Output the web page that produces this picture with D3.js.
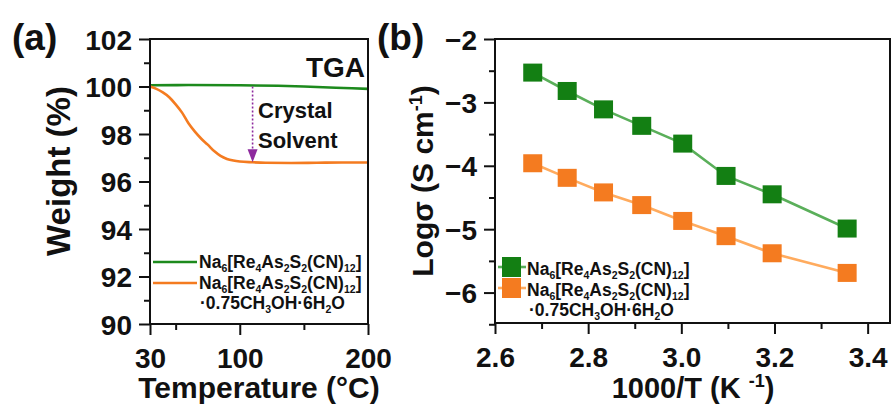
<!DOCTYPE html>
<html>
<head>
<meta charset="utf-8">
<script src="https://cdn.jsdelivr.net/npm/d3@7"></script>
<style>
  body { margin: 0; background: #fff; }
  svg text { font-family: "Liberation Sans", Arial, sans-serif; font-weight: bold; fill: #111; }
</style>
</head>
<body>
<svg id="fig" width="895" height="412"></svg>
<script>
// ---- data: TGA (panel a)
const tgaTempOrange = [30, 35, 40, 45, 50, 55, 60, 65, 70, 75, 80, 85, 90, 95, 100, 110, 120, 140, 160, 180, 200];
const tgaWeightOrange = [100.0, 99.9, 99.75, 99.55, 99.25, 98.9, 98.45, 98.1, 97.8, 97.55, 97.28, 97.08, 96.95, 96.88, 96.84, 96.81, 96.79, 96.78, 96.79, 96.8, 96.8];
const tgaTempGreen = [30, 60, 100, 130, 150, 175, 200];
const tgaWeightGreen = [100.05, 100.06, 100.05, 100.03, 100.0, 99.95, 99.9];
const solventArrow = { temp: 110, from: 100.0, to: 96.81 };

// ---- data: conductivity (panel b)
const invT = [2.681, 2.755, 2.833, 2.915, 3.003, 3.096, 3.195, 3.356];
const logSigmaDry = [-2.53, -2.82, -3.11, -3.37, -3.65, -4.16, -4.45, -4.99];
const logSigmaSolv = [-3.96, -4.19, -4.42, -4.62, -4.87, -5.11, -5.38, -5.69];

const tempTicks = [30, 100, 200];
const tempMinor = [50, 150];
const weightTicks = [90, 92, 94, 96, 98, 100, 102];
const weightMinor = [91, 93, 95, 97, 99, 101];
const invTTicks = [2.6, 2.8, 3.0, 3.2, 3.4];
const invTMinor = [2.7, 2.9, 3.1, 3.3];
const sigmaTicks = [-2, -3, -4, -5, -6];
const sigmaMinor = [-2.5, -3.5, -4.5, -5.5, -6.5];

const GREEN = "#137f13", ORANGE = "#f47b20";
const GREEN_LINE = "#5aaf5a", ORANGE_LINE = "#ffab5e";
const PURPLE = "#8e2a9e";

// formula pieces: [text, isSub]
const formula = [["Na", 0], ["6", 1], ["[Re", 0], ["4", 1], ["As", 0], ["2", 1], ["S", 0], ["2", 1], ["(CN)", 0], ["12", 1], ["]", 0]];
const solvent = [["·0.75CH", 0], ["3", 1], ["OH·6H", 0], ["2", 1], ["O", 0]];

const svg = d3.select("#fig");

// write text made of normal and subscript parts
function richText(g, x, y, parts, size) {
  const t = g.append("text").attr("x", x).attr("y", y).style("font-size", size + "px");
  let shift = 0;
  parts.forEach(([s, sub]) => {
    const want = sub ? size * 0.22 : 0;
    t.append("tspan")
      .attr("dy", want - shift)
      .style("font-size", (sub ? size * 0.6 : size) + "px")
      .text(s);
    shift = want;
  });
  return t;
}

function frame(g, x, y) {
  const [x0, x1] = x.range(), [y0, y1] = y.range();
  g.append("rect")
    .attr("x", x0).attr("y", y1)
    .attr("width", x1 - x0).attr("height", y0 - y1)
    .attr("fill", "none").attr("stroke", "#111").attr("stroke-width", 2);
}

function axes(g, x, y, xt, xm, yt, ym, xfmt, yfmt) {
  const [x0] = x.range(), [y0] = y.range();
  const bottom = g.append("g").attr("transform", `translate(0,${y0})`)
    .call(d3.axisBottom(x).tickValues(xt).tickSize(11).tickPadding(6).tickFormat(xfmt));
  g.append("g").attr("transform", `translate(0,${y0})`)
    .call(d3.axisBottom(x).tickValues(xm).tickSize(6).tickFormat(""));
  const left = g.append("g").attr("transform", `translate(${x0},0)`)
    .call(d3.axisLeft(y).tickValues(yt).tickSize(11).tickPadding(7).tickFormat(yfmt));
  g.append("g").attr("transform", `translate(${x0},0)`)
    .call(d3.axisLeft(y).tickValues(ym).tickSize(6).tickFormat(""));
  g.selectAll(".domain").remove();
  g.selectAll(".tick line").attr("stroke", "#111").attr("stroke-width", 2);
  g.selectAll(".tick text").attr("font-family", null).attr("font-size", null)
    .style("font-size", "28px").attr("fill", "#111");
  left.selectAll(".tick text").attr("dy", "0.36em");
  bottom.selectAll(".tick text").attr("dy", "0.95em");
}

// ================= panel (a)
const xa = d3.scaleLinear().domain([30, 200]).range([150, 368]);
const ya = d3.scaleLinear().domain([90, 102]).range([324, 39]);
const ga = svg.append("g");

const lineA = d3.line().curve(d3.curveMonotoneX);
ga.append("path")
  .attr("d", lineA(tgaTempGreen.map((t, i) => [xa(t), ya(tgaWeightGreen[i])])))
  .attr("fill", "none").attr("stroke", "#1d8a1d").attr("stroke-width", 2.6);
ga.append("path")
  .attr("d", lineA(tgaTempOrange.map((t, i) => [xa(t), ya(tgaWeightOrange[i])])))
  .attr("fill", "none").attr("stroke", ORANGE).attr("stroke-width", 2.6);

// crystal solvent arrow
const ax = xa(solventArrow.temp), ayTop = ya(solventArrow.from), ayTip = ya(solventArrow.to);
ga.append("line")
  .attr("x1", ax).attr("x2", ax).attr("y1", ayTop).attr("y2", ayTip - 12)
  .attr("stroke", PURPLE).attr("stroke-width", 1.6).attr("stroke-dasharray", "2,2");
ga.append("path")
  .attr("d", `M${ax - 5},${ayTip - 13}L${ax + 5},${ayTip - 13}L${ax},${ayTip}Z`)
  .attr("fill", PURPLE);
ga.append("text").attr("x", 258).attr("y", 118).style("font-size", "22px").text("Crystal");
ga.append("text").attr("x", 258).attr("y", 148).style("font-size", "22px").text("Solvent");

ga.append("text").attr("x", 365).attr("y", 77).attr("text-anchor", "end")
  .style("font-size", "28px").text("TGA");

frame(ga, xa, ya);
axes(ga, xa, ya, tempTicks, tempMinor, weightTicks, weightMinor, d3.format("d"), d3.format("d"));

// legend (a)
ga.append("line").attr("x1", 153).attr("x2", 197).attr("y1", 262).attr("y2", 262)
  .attr("stroke", "#1d8a1d").attr("stroke-width", 2.6);
ga.append("line").attr("x1", 153).attr("x2", 197).attr("y1", 283).attr("y2", 283)
  .attr("stroke", ORANGE).attr("stroke-width", 2.6);
richText(ga, 199, 268, formula, 17.5);
richText(ga, 199, 289, formula, 17.5);
richText(ga, 200, 309, solvent, 17.5);

ga.append("text").attr("x", 12).attr("y", 50).style("font-size", "37px").text("(a)");
ga.append("text").attr("transform", "translate(70,171) rotate(-90)")
  .attr("text-anchor", "middle").style("font-size", "33px").text("Weight (%)");
ga.append("text").attr("x", 259).attr("y", 398).attr("text-anchor", "middle")
  .style("font-size", "30px").text("Temperature (°C)");

// ================= panel (b)
const xb = d3.scaleLinear().domain([2.6, 3.448]).range([495, 890]);
const yb = d3.scaleLinear().domain([-6.48, -2]).range([323, 39]);
const gb = svg.append("g");

const series = [
  { vals: logSigmaSolv, fill: ORANGE, line: ORANGE_LINE },
  { vals: logSigmaDry, fill: GREEN, line: GREEN_LINE },
];
const lineB = d3.line();
series.forEach((s) => {
  const pts = invT.map((v, i) => [xb(v), yb(s.vals[i])]);
  gb.append("path").attr("d", lineB(pts))
    .attr("fill", "none").attr("stroke", s.line).attr("stroke-width", 2.6);
  gb.selectAll(null).data(pts).enter().append("rect")
    .attr("x", (d) => d[0] - 9.5).attr("y", (d) => d[1] - 9)
    .attr("width", 19).attr("height", 18)
    .attr("fill", s.fill);
});

frame(gb, xb, yb);
axes(gb, xb, yb, invTTicks, invTMinor, sigmaTicks, sigmaMinor, d3.format(".1f"), (d) => "−" + Math.abs(d));

// legend (b)
[[GREEN, GREEN_LINE, 267], [ORANGE, ORANGE_LINE, 288]].forEach(([f, l, yy]) => {
  gb.append("line").attr("x1", 498).attr("x2", 526).attr("y1", yy).attr("y2", yy)
    .attr("stroke", l).attr("stroke-width", 2.6);
  gb.append("rect").attr("x", 502).attr("y", yy - 10).attr("width", 19).attr("height", 20).attr("fill", f);
});
richText(gb, 527, 275, formula, 17.5);
richText(gb, 527, 296, formula, 17.5);
richText(gb, 529, 316, solvent, 17.5);

gb.append("text").attr("x", 377).attr("y", 50).style("font-size", "37px").text("(b)");
const yl = gb.append("text").attr("transform", "translate(433,181) rotate(-90)")
  .attr("text-anchor", "middle").style("font-size", "30px");
yl.append("tspan").text("Logσ (S cm");
yl.append("tspan").attr("dy", -11).style("font-size", "18px").text("-1");
yl.append("tspan").attr("dy", 11).text(")");
const xl = gb.append("text").attr("x", 693).attr("y", 398).attr("text-anchor", "middle")
  .style("font-size", "29px");
xl.append("tspan").text("1000/T (K ");
xl.append("tspan").attr("dy", -11).style("font-size", "18px").text("-1");
xl.append("tspan").attr("dy", 11).text(")");
</script>
</body>
</html>
